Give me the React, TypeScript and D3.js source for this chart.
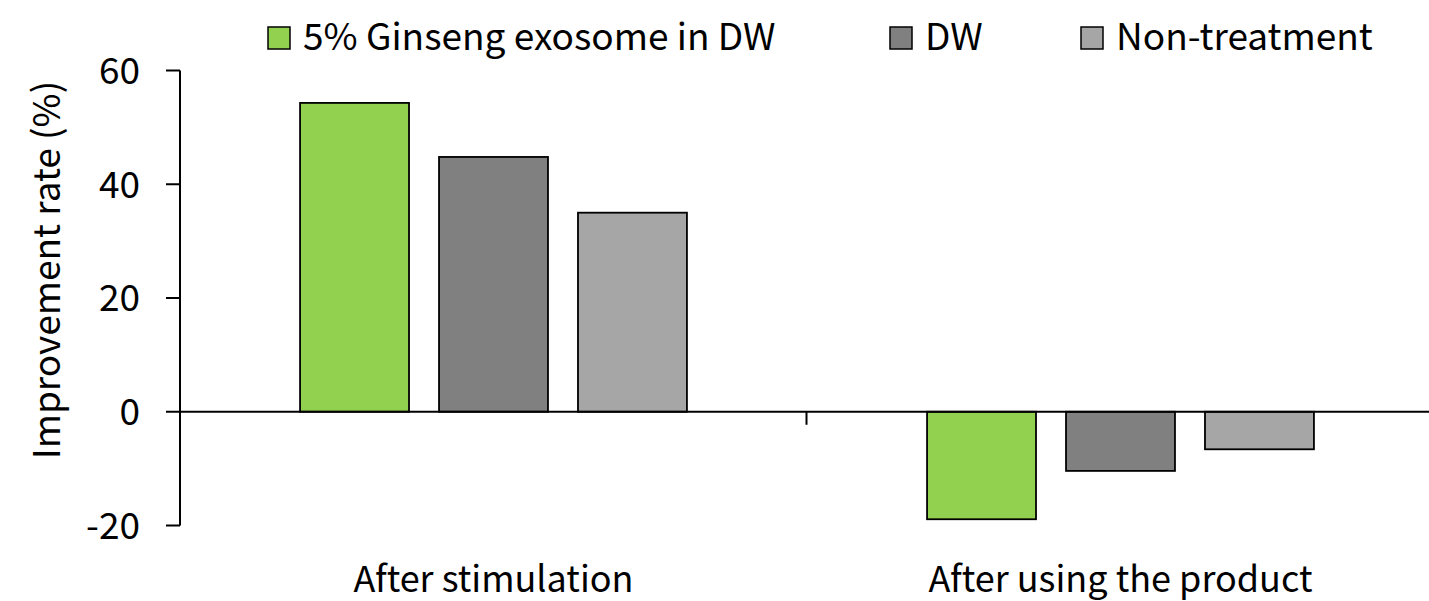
import * as d3 from "d3";

const categories = ["After stimulation", "After using the product"];
const seriesNames = ["5% Ginseng exosome in DW", "DW", "Non-treatment"];
const ginseng = [54.3, -18.9];
const dw = [44.8, -10.4];
const nonTreatment = [35.0, -6.6];
const yTicks = [-20, 0, 20, 40, 60];
const colors = ["#92D050", "#808080", "#A6A6A6"];

const W = 1429;
const H = 601;
const FONT = "'Noto Sans CJK KR', 'Open Sans', sans-serif";
const FW = 400;

export default function App() {
  const values = [ginseng, dw, nonTreatment];

  const y = d3.scaleLinear().domain([-20, 60]).range([525.5, 70.5]);
  const x0 = d3.scaleBand<string>().domain(categories).range([180, 1434]);
  const x1 = d3
    .scaleBand<string>()
    .domain(seriesNames)
    .range([0, x0.bandwidth()])
    .paddingInner(0.216)
    .paddingOuter(0.864);

  const zero = y(0);

  // legend slots (square x)
  const legendX = [268, 890, 1081];

  return (
    <div style={{ position: "fixed", left: 0, top: 0 }}>
      <svg width={W} height={H} style={{ display: "block", background: "#fff" }}>
        {/* legend */}
        {seriesNames.map((name, i) => (
          <g key={name} transform={`translate(${legendX[i]},27)`}>
            <rect width={22} height={22} fill={colors[i]} stroke="#000" strokeWidth={1.5} />
            <text x={35} y={23} fontFamily={FONT} fontWeight={FW} fontSize={37} fill="#000">
              {name}
            </text>
          </g>
        ))}

        {/* bars */}
        {categories.map((cat, ci) => (
          <g key={cat} transform={`translate(${x0(cat)},0)`}>
            {seriesNames.map((s, si) => {
              const v = values[si][ci];
              const top = Math.min(y(v), zero);
              const h = Math.abs(y(v) - zero);
              return (
                <rect
                  key={s}
                  x={x1(s)}
                  y={top}
                  width={x1.bandwidth()}
                  height={h}
                  fill={colors[si]}
                  stroke="#000"
                  strokeWidth={1.8}
                />
              );
            })}
          </g>
        ))}

        {/* y axis */}
        <line x1={180} x2={180} y1={y(60)} y2={y(-20)} stroke="#000" strokeWidth={2} />
        {yTicks.map((t) => (
          <g key={t}>
            <line x1={166} x2={180} y1={y(t)} y2={y(t)} stroke="#000" strokeWidth={2} />
            <text
              x={140}
              y={y(t)}
              dy="0.36em"
              textAnchor="end"
              fontFamily={FONT}
              fontWeight={FW}
              fontSize={37}
              fill="#000"
            >
              {t}
            </text>
          </g>
        ))}

        {/* x axis */}
        <line x1={180} x2={W} y1={zero} y2={zero} stroke="#000" strokeWidth={2} />
        {categories.slice(1).map((c) => (
          <line
            key={c}
            x1={x0(c)! - 0.5}
            x2={x0(c)! - 0.5}
            y1={zero}
            y2={zero + 13}
            stroke="#000"
            strokeWidth={2}
          />
        ))}
        {categories.map((c) => (
          <text
            key={c}
            x={x0(c)! + x0.bandwidth() / 2}
            y={592}
            textAnchor="middle"
            fontFamily={FONT}
            fontWeight={FW}
            fontSize={36}
            fill="#000"
          >
            {c}
          </text>
        ))}

        {/* y title */}
        <text
          transform={`translate(60,270) rotate(-90)`}
          textAnchor="middle"
          fontFamily={FONT}
          fontWeight={FW}
          fontSize={37}
          fill="#000"
        >
          Improvement rate (%)
        </text>
      </svg>
    </div>
  );
}
